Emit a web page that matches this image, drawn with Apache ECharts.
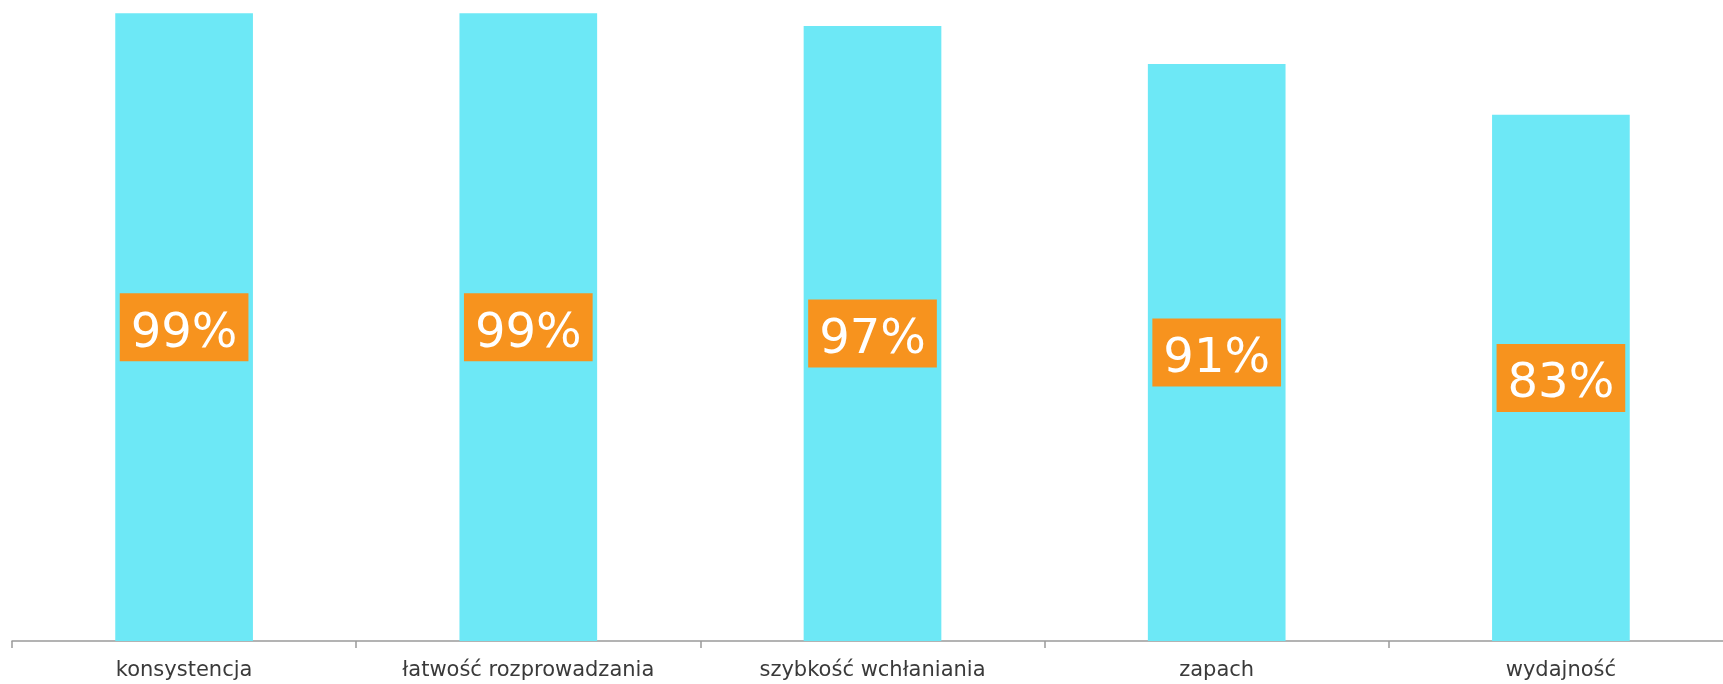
<!DOCTYPE html>
<html>
<head>
<meta charset="utf-8">
<script src="https://cdn.jsdelivr.net/npm/echarts@6/dist/echarts.min.js"></script>
<style>
  html, body { margin: 0; padding: 0; background: #ffffff; }
  #chart { width: 1723px; height: 684px; }
</style>
</head>
<body>
<div id="chart"></div>
<script>
// Categories and satisfaction shares (percent)
const categories = ['konsystencja', 'łatwość rozprowadzania', 'szybkość wchłaniania', 'zapach', 'wydajność'];
const values = [99, 99, 97, 91, 83];

const chart = echarts.init(document.getElementById('chart'), null, { renderer: 'canvas' });

chart.setOption({
  animation: false,
  backgroundColor: '#ffffff',
  // plot area runs slightly past the right edge of the canvas
  grid: { left: 12, width: 1721, top: 7, bottom: 43, containLabel: false, outerBoundsMode: 'none' },
  xAxis: {
    type: 'category',
    data: categories,
    axisLine: { lineStyle: { color: '#9a9a9a', width: 1.5 } },
    axisTick: { show: true, length: 7, lineStyle: { color: '#9a9a9a', width: 1.5 } },
    axisLabel: {
      color: '#3a3a3a',
      fontFamily: 'DejaVu Sans',
      fontSize: 21,
      margin: 19
    }
  },
  yAxis: {
    type: 'value',
    min: 0,
    max: 100,
    show: false,
    splitLine: { show: false }
  },
  series: [{
    type: 'bar',
    data: values,
    barWidth: '40%',
    itemStyle: { color: '#6DE8F6' },
    label: {
      show: true,
      position: 'inside',
      formatter: (p) => '{v|' + p.value + '%}',
      backgroundColor: '#F7931E',
      padding: [14, 11, 6, 11],
      rich: {
        v: {
          color: '#ffffff',
          fontFamily: 'DejaVu Sans',
          fontSize: 48,
          lineHeight: 48,
          padding: [6, 0, 0, 0]
        }
      }
    }
  }]
});
</script>
</body>
</html>
